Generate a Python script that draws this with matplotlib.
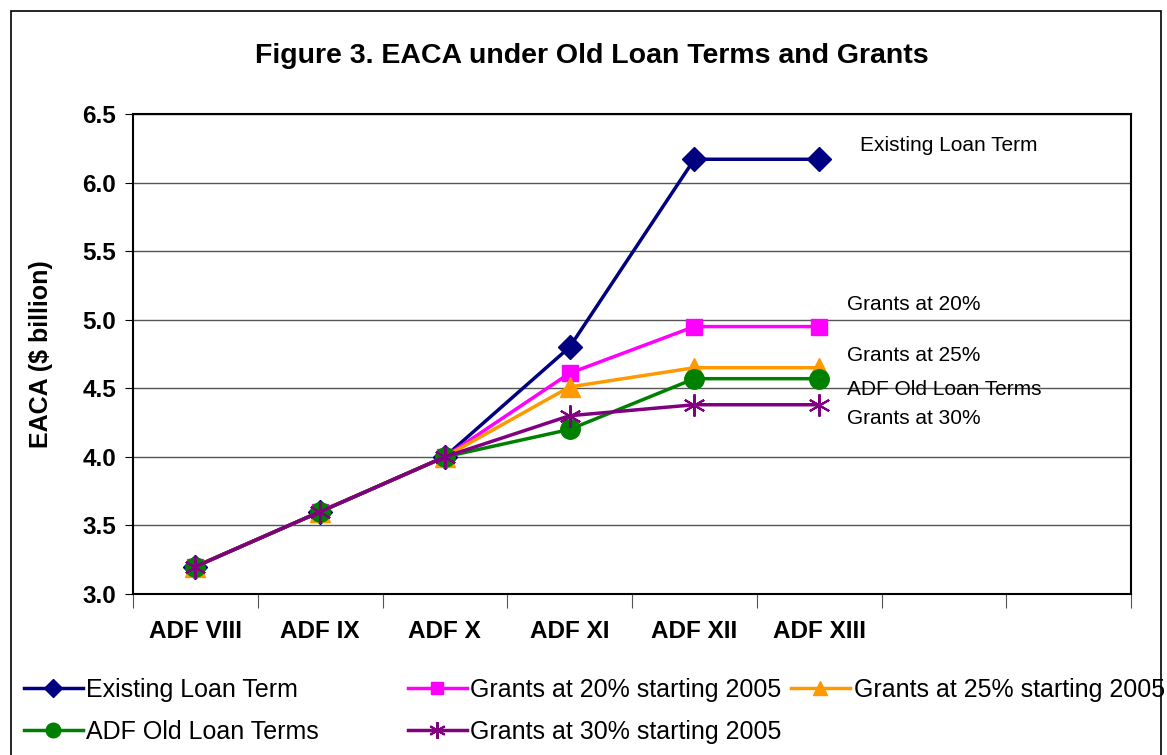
import matplotlib.pyplot as plt
from matplotlib.patches import Rectangle

plt.rcParams['font.family'] = ['Liberation Sans', 'DejaVu Sans']

categories = ['ADF VIII', 'ADF IX', 'ADF X', 'ADF XI', 'ADF XII', 'ADF XIII']
existing = [3.2, 3.6, 4.0, 4.8, 6.17, 6.17]
grants20 = [3.2, 3.6, 4.0, 4.61, 4.95, 4.95]
grants25 = [3.2, 3.6, 4.0, 4.51, 4.65, 4.65]
old_terms = [3.2, 3.6, 4.0, 4.2, 4.57, 4.57]
grants30 = [3.2, 3.6, 4.0, 4.3, 4.38, 4.38]

end_labels = ['Existing Loan Term', 'Grants at 20%', 'Grants at 25%',
              'ADF Old Loan Terms', 'Grants at 30%']
end_label_y = [6.27, 5.11, 4.74, 4.49, 4.28]

W, H = 1167, 755
fig = plt.figure(figsize=(W / 100, H / 100), dpi=100)
ax = fig.add_axes([133 / W, 1 - 594 / H, (1131 - 133) / W, (594 - 114) / H])

x = list(range(len(categories)))
series = [
    (existing, 'Existing Loan Term', '#000080', 'D', 12, {}),
    (grants20, 'Grants at 20% starting 2005', '#ff00ff', 's', 12, {}),
    (grants25, 'Grants at 25% starting 2005', '#ff9900', '^', 14, {}),
    (old_terms, 'ADF Old Loan Terms', '#008000', 'o', 14, {}),
    (grants30, 'Grants at 30% starting 2005', '#800080', (6, 2, 0), 16, {'markeredgewidth': 1.5}),
]
handles = []
for ys, lab, col, mk, ms, extra in series:
    h, = ax.plot(x, ys, color=col, marker=mk, markersize=ms, linewidth=2.5,
                 markerfacecolor=col, markeredgecolor=col, label=lab, **extra)
    handles.append(h)

ax.set_xlim(-0.5, 7.5)
ax.set_ylim(3.0, 6.5)
ax.set_yticks([3.0, 3.5, 4.0, 4.5, 5.0, 5.5, 6.0, 6.5])
ax.set_yticklabels(['%.1f' % v for v in ax.get_yticks()], fontsize=17.5, fontweight='bold')
ax.yaxis.grid(True, color='#555555', linewidth=1)
ax.set_axisbelow(True)
ax.set_xticks([i - 0.5 for i in range(9)])
ax.set_xticklabels([])
ax.set_xticks(x, minor=True)
ax.set_xticklabels(categories, minor=True, fontsize=17.5, fontweight='bold')
ax.tick_params(axis='x', which='major', length=10, direction='out', color='#555555')
ax.tick_params(axis='x', which='minor', length=0, pad=19)
ax.tick_params(axis='y', length=6, pad=6)
for s in ax.spines.values():
    s.set_linewidth(1.5)
    s.set_color('black')

ax.set_ylabel('EACA ($ billion)', fontsize=18, fontweight='bold', labelpad=21)

for lab, yv, xo in zip(end_labels, end_label_y, [5.33, 5.22, 5.22, 5.22, 5.22]):
    ax.text(xo, yv, lab, fontsize=15, va='center', ha='left')

fig.text(592 / W, 1 - 56 / H, 'Figure 3. EACA under Old Loan Terms and Grants',
         fontsize=20.5, fontweight='bold', ha='center', va='center')

# figure border
fig.patches.append(Rectangle((11 / W, -0.05), (1161 - 11) / W, 1.05 - 11 / H,
                             transform=fig.transFigure, fill=False,
                             edgecolor='black', linewidth=1.2))

# legend in three columns
cols = [([handles[0], handles[3]], 24), ([handles[1], handles[4]], 408), ([handles[2]], 791)]
for hs, xp in cols:
    fig.legend(handles=hs, labels=[h.get_label() for h in hs], loc='upper left',
               bbox_to_anchor=(xp / W, 1 - 678 / H), frameon=False, fontsize=18,
               handlelength=2.35, handletextpad=0.15, labelspacing=0.72,
               borderaxespad=0, borderpad=0, markerscale=0.75)

fig.savefig('out.png', dpi=100)
